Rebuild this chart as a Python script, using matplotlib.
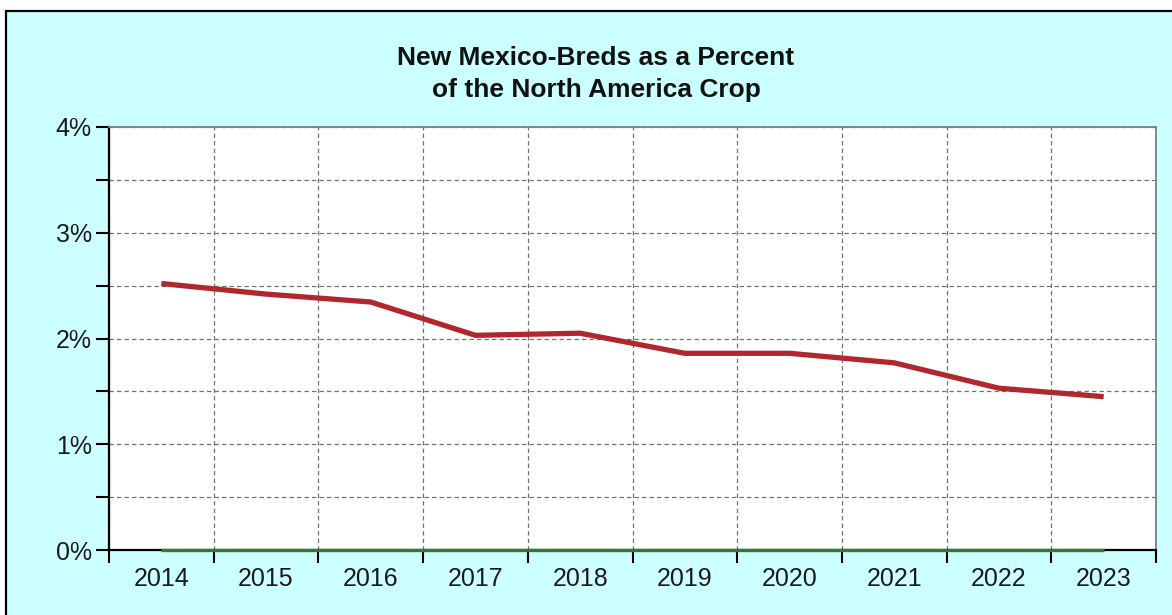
import matplotlib
matplotlib.use("Agg")
import matplotlib.pyplot as plt
from matplotlib.patches import Rectangle
from matplotlib.ticker import MultipleLocator, FixedLocator

years = ["2014", "2015", "2016", "2017", "2018", "2019", "2020", "2021", "2022", "2023"]
pct_nm = [2.52, 2.42, 2.345, 2.03, 2.05, 1.86, 1.86, 1.77, 1.53, 1.45]
pct_base = [0, 0, 0, 0, 0, 0, 0, 0, 0, 0]
y_labels = ["0%", "1%", "2%", "3%", "4%"]

plt.rcParams['font.family'] = ['Liberation Sans', 'DejaVu Sans']

W, H = 1172, 615
fig = plt.figure(figsize=(W / 100, H / 100), dpi=100)
fig.patch.set_facecolor("white")

# outer cyan panel with black border (top and left visible)
bg = Rectangle((6 / W, -0.05), 1.1, 1 - 11 / H + 0.05, transform=fig.transFigure,
               facecolor="#CCFFFF", edgecolor="black", linewidth=1.6, zorder=-10)
fig.patches.append(bg)

ax = fig.add_axes([109 / W, 1 - 550 / H, (1156 - 109) / W, (550 - 127) / H])
ax.set_zorder(2)
ax.set_facecolor("white")

x = list(range(len(years)))
ax.plot(x, pct_base, color="#2E7D2E", linewidth=2.4, zorder=4, clip_on=False,
        solid_capstyle="butt")
ax.plot(x, pct_nm, color="#B0282E", linewidth=3.8, zorder=5, solid_capstyle="butt",
        solid_joinstyle="round")

ax.set_xlim(-0.5, len(years) - 0.5)
ax.set_ylim(0, 4)

# x: major ticks at boundaries (marks + grid), minor at centres (labels)
ax.xaxis.set_major_locator(FixedLocator([i - 0.5 for i in range(len(years) + 1)]))
ax.xaxis.set_minor_locator(FixedLocator(x))
ax.set_xticklabels([])
ax.set_xticklabels(years, minor=True)
ax.tick_params(axis="x", which="major", length=9.5, width=1.5, direction="out", color="black")
ax.tick_params(axis="x", which="minor", length=0, pad=12, labelsize=18, labelcolor="#1a1a1a")

ax.yaxis.set_major_locator(FixedLocator([0, 1, 2, 3, 4]))
ax.yaxis.set_minor_locator(MultipleLocator(0.5))
ax.set_yticklabels(y_labels)
ax.tick_params(axis="y", which="both", length=9.5, width=1.5, direction="out", color="black",
               labelsize=18, labelcolor="#1a1a1a", pad=3)

ax.grid(True, which="major", axis="x", color="#707070", linestyle=(0, (3.5, 2.5)), linewidth=0.9)
ax.grid(True, which="both", axis="y", color="#707070", linestyle=(0, (3.5, 2.5)), linewidth=0.9)
ax.set_axisbelow(True)

for s in ["left", "bottom"]:
    ax.spines[s].set_color("black")
    ax.spines[s].set_linewidth(1.6)
for s in ["top", "right"]:
    ax.spines[s].set_color("#6f8585")
    ax.spines[s].set_linewidth(1.3)

fig.text(596 / W, 1 - 58 / H, "New Mexico-Breds as a Percent", ha="center", va="center",
         fontsize=19, fontweight="bold", color="#111111")
fig.text(596 / W, 1 - 90 / H, "of the North America Crop", ha="center", va="center",
         fontsize=19, fontweight="bold", color="#111111")

fig.savefig("out.png", dpi=100, facecolor=fig.get_facecolor())
